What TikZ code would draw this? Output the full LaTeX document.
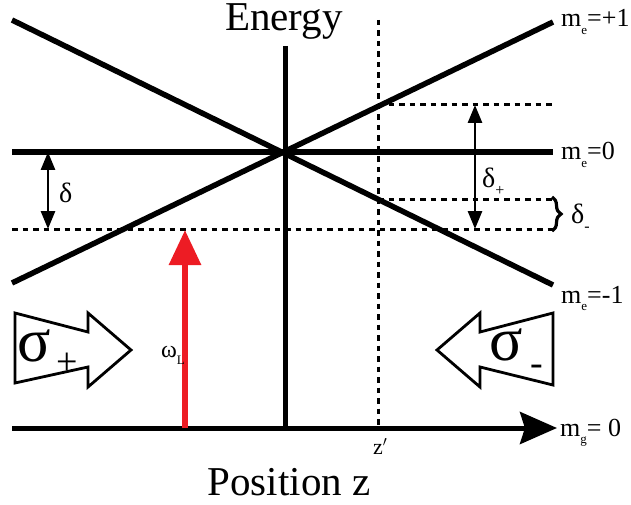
\documentclass[tikz,border=0pt]{standalone}
\usepackage{fontspec}
\setmainfont{Liberation Serif}
\usetikzlibrary{arrows.meta,decorations.pathreplacing}
\definecolor{arrred}{RGB}{237,28,36}
\newcommand{\sbs}[1]{\raisebox{-0.3em}{\fontsize{13}{13}\selectfont #1}}
\newcommand{\sbd}[1]{\raisebox{-0.3em}{\fontsize{16}{16}\selectfont #1}}
\begin{document}
\begin{tikzpicture}[x=1pt,y=-1pt,
  level/.style={line width=5.5pt},
  axisline/.style={line width=5pt},
  dashline/.style={line width=3pt,dash pattern=on 5.5pt off 5pt},
  dbl/.style={line width=2.8pt,{Triangle[length=18pt,width=14pt]}-{Triangle[length=18pt,width=14pt]}},
  lbl/.style={inner sep=0pt,anchor=base west,font=\fontsize{26}{26}\selectfont},
  big/.style={inner sep=0pt,anchor=base,font=\fontsize{41}{41}\selectfont},
  pol/.style={line width=2.8pt,line join=miter,fill=white}]
\useasboundingbox (0,0) rectangle (631,505);
% coordinates
\coordinate (O) at (285,152);
\coordinate (pL) at (12,283); \coordinate (pR) at (553,22);
\coordinate (mL) at (12,20); \coordinate (mR) at (553,285);
\coordinate (zL) at (12,152); \coordinate (zR) at (553,152);
\coordinate (vT) at (285,46); \coordinate (vB) at (285,428);
\coordinate (hL) at (12,428); \coordinate (hR) at (557,428);
\coordinate (dT) at (378,20); \coordinate (dB) at (378,428);
\coordinate (lowL) at (12,229); \coordinate (lowR) at (553,229);
\coordinate (upL) at (378,105); \coordinate (upR) at (555,105);
\coordinate (midL) at (378,199); \coordinate (midR) at (553,199);
\coordinate (dA) at (48,152); \coordinate (dB2) at (48,229);
\coordinate (dpA) at (475,105); \coordinate (dpB) at (475,229);
\coordinate (rB) at (185,428); \coordinate (rT) at (185,230);
% dashed lines
\draw[dashline] (dT) -- (dB);
\draw[dashline] (lowL) -- (lowR);
\draw[dashline] (upL) -- (upR);
\draw[dashline] (midL) -- (midR);
% levels
\draw[level] (pL) -- (pR);
\draw[level] (mL) -- (mR);
\draw[level] (zL) -- (zR);
\draw[axisline] (vT) -- (vB);
\draw[axisline,-{Stealth[length=37pt,width=32pt,inset=5pt]}] (hL) -- (hR);
% arrows
\draw[dbl] (dA) -- (dB2);
\draw[dbl] (dpA) -- (dpB);
\draw[line width=6pt,arrred,-{Triangle[length=35pt,width=31pt]}] (rB) -- (rT);
% brace
\draw[line width=3.2pt,decorate,decoration={brace,amplitude=9pt}] (552,197) -- (552,231);
% sigma arrows
\draw[pol] (15,313) -- (88,332) -- (88,313) -- (131,350) -- (88,387) -- (88,367) -- (15,383) -- cycle;
\draw[pol] (553,313) -- (480,332) -- (480,313) -- (437,350) -- (480,387) -- (480,367) -- (553,385) -- cycle;
% texts
\node[big] (energy) at (284,31) {Energy};
\node[big] (posz) at (289,495) {Position z};
\node[lbl] (lp1) at (561,27) {m\sbs{e}=+1};
\node[lbl] (l0) at (561,160) {m\sbs{e}=0};
\node[lbl] (lm1) at (561,303) {m\sbs{e}=-1};
\node[lbl] (lg) at (560,436) {m\sbs{g}= 0};
\node[lbl,font=\fontsize{22}{22}\selectfont] (zp) at (373,454) {z$^{\prime}$};
\node[lbl,font=\fontsize{28}{28}\selectfont] (delta) at (59,202) {δ};
\node[lbl,font=\fontsize{28}{28}\selectfont] (deltap) at (482,187) {δ\sbd{+}};
\node[lbl,font=\fontsize{28}{28}\selectfont] (deltam) at (571,223) {δ\sbd{-}};
\node[lbl,font=\fontsize{24}{24}\selectfont] (omega) at (161,357) {ω\sbs{L}};
\node[inner sep=0pt,anchor=base west,font=\fontsize{62}{62}\selectfont] (sp) at (17,361) {σ};
\node[inner sep=0pt,anchor=base west,font=\fontsize{38}{38}\selectfont] (spp) at (56,374) {+};
\node[inner sep=0pt,anchor=base west,font=\fontsize{62}{62}\selectfont] (sm) at (489,360) {σ};
\node[inner sep=0pt,anchor=base west,font=\fontsize{38}{38}\selectfont] (smm) at (530,375) {-};
\end{tikzpicture}
\end{document}
